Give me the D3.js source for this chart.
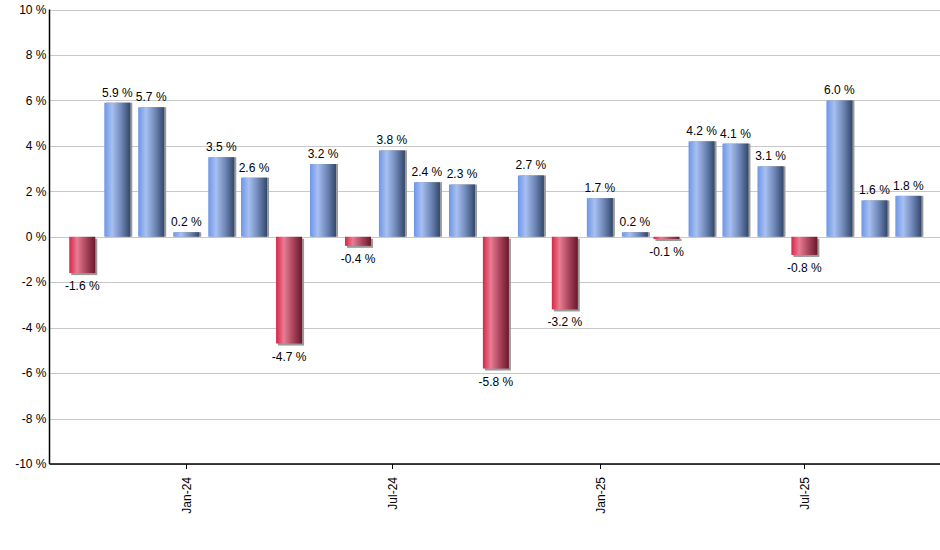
<!DOCTYPE html>
<html lang="en">
<head>
<meta charset="utf-8">
<title>Monthly returns</title>
<script src="https://d3js.org/d3.v7.min.js"></script>
<style>
  body { margin: 0; padding: 0; background: #fff; }
  svg { display: block; font-family: "Liberation Sans", Arial, sans-serif; }
</style>
</head>
<body>
<svg id="chart" width="940" height="550"></svg>
<script>
// month of each bar (first day of month) and its return in %
const months = [
  '2023-10', '2023-11', '2023-12', '2024-01', '2024-02', '2024-03', '2024-04',
  '2024-05', '2024-06', '2024-07', '2024-08', '2024-09', '2024-10', '2024-11',
  '2024-12', '2025-01', '2025-02', '2025-03', '2025-04', '2025-05', '2025-06',
  '2025-07', '2025-08', '2025-09', '2025-10'
];
const returns = [
  -1.6, 5.9, 5.7, 0.2, 3.5, 2.6, -4.7,
  3.2, -0.4, 3.8, 2.4, 2.3, -5.8, 2.7,
  -3.2, 1.7, 0.2, -0.1, 4.2, 4.1, 3.1,
  -0.8, 6.0, 1.6, 1.8
];
const yTicks = [-10, -8, -6, -4, -2, 0, 2, 4, 6, 8, 10];
const xTickMonths = ['2024-01', '2024-07', '2025-01', '2025-07'];

(function (d3) {
  'use strict';

  const parseMonth = d3.timeParse('%Y-%m');
  const data = months.map((m, i) => ({ date: parseMonth(m), value: returns[i] }));

  const svg = d3.select('#chart');
  const plotLeft = 49.5, plotRight = 940, plotTop = 9.5, plotBottom = 464;
  const barW = 26;

  const x = d3.scaleTime()
    .domain([new Date(2023, 8, 2), new Date(2025, 9, 29)])
    .range([plotLeft, plotRight]);
  const y = d3.scaleLinear().domain([-10, 10]).range([plotBottom, plotTop]);

  // gradients
  const defs = svg.append('defs');
  function grad(id, stops) {
    const g = defs.append('linearGradient').attr('id', id)
      .attr('x1', '0%').attr('x2', '100%').attr('y1', '0%').attr('y2', '0%');
    stops.forEach(s => g.append('stop').attr('offset', s[0]).attr('stop-color', s[1]));
  }
  grad('gBlue', [['0%', '#6d96e8'], ['30%', '#a7c0f1'], ['65%', '#6f88b8'], ['100%', '#334769']]);
  grad('gRed', [['0%', '#d82548'], ['30%', '#e97c94'], ['65%', '#a9455c'], ['100%', '#6b172b']]);

  // gridlines
  svg.append('g')
    .selectAll('line')
    .data(yTicks)
    .join('line')
    .attr('x1', plotLeft).attr('x2', plotRight)
    .attr('y1', d => Math.round(y(d)) + 0.5).attr('y2', d => Math.round(y(d)) + 0.5)
    .attr('stroke', '#c8c8c8').attr('stroke-width', 1);

  // y labels
  svg.append('g')
    .selectAll('text')
    .data(yTicks)
    .join('text')
    .attr('x', plotLeft - 3)
    .attr('y', d => y(d))
    .attr('dy', '0.35em')
    .attr('text-anchor', 'end')
    .attr('font-size', 12)
    .attr('fill', '#000')
    .text(d => d + ' %');

  // bars
  const bars = svg.append('g');
  bars.selectAll('rect.shadow')
    .data(data)
    .join('rect')
    .attr('class', 'shadow')
    .attr('x', d => x(d.date) - barW / 2 + 2)
    .attr('y', d => Math.min(y(d.value), y(0)) + (d.value < 0 ? 2 : 0))
    .attr('width', barW)
    .attr('height', d => Math.abs(y(d.value) - y(0)))
    .attr('fill', '#9a9a9a');
  bars.selectAll('rect.bar')
    .data(data)
    .join('rect')
    .attr('class', 'bar')
    .attr('x', d => x(d.date) - barW / 2)
    .attr('y', d => Math.min(y(d.value), y(0)))
    .attr('width', barW)
    .attr('height', d => Math.abs(y(d.value) - y(0)))
    .attr('fill', d => d.value < 0 ? 'url(#gRed)' : 'url(#gBlue)');

  // value labels
  svg.append('g')
    .selectAll('text')
    .data(data)
    .join('text')
    .attr('x', d => x(d.date))
    .attr('y', d => d.value < 0 ? y(d.value) + 17 : y(d.value) - 6)
    .attr('text-anchor', 'middle')
    .attr('font-size', 12)
    .attr('fill', '#000')
    .text(d => d.value.toFixed(1) + ' %');

  // axis lines
  svg.append('line')
    .attr('x1', plotLeft).attr('x2', plotLeft).attr('y1', plotTop).attr('y2', plotBottom)
    .attr('stroke', '#000').attr('stroke-width', 1.5);
  svg.append('line')
    .attr('x1', plotLeft).attr('x2', plotRight).attr('y1', plotBottom).attr('y2', plotBottom)
    .attr('stroke', '#000').attr('stroke-width', 1.5);

  // x ticks
  const fmt = d3.timeFormat('%b-%y');
  const xt = svg.append('g')
    .selectAll('g')
    .data(xTickMonths.map(parseMonth))
    .join('g')
    .attr('transform', d => `translate(${Math.round(x(d)) + 0.5},${plotBottom})`);
  xt.append('line').attr('y2', 5).attr('stroke', '#000');
  xt.append('text')
    .attr('transform', 'rotate(-90)')
    .attr('x', -13)
    .attr('dy', '0.35em')
    .attr('text-anchor', 'end')
    .attr('font-size', 12)
    .attr('fill', '#000')
    .text(d => fmt(d));
})(d3);
</script>
</body>
</html>
